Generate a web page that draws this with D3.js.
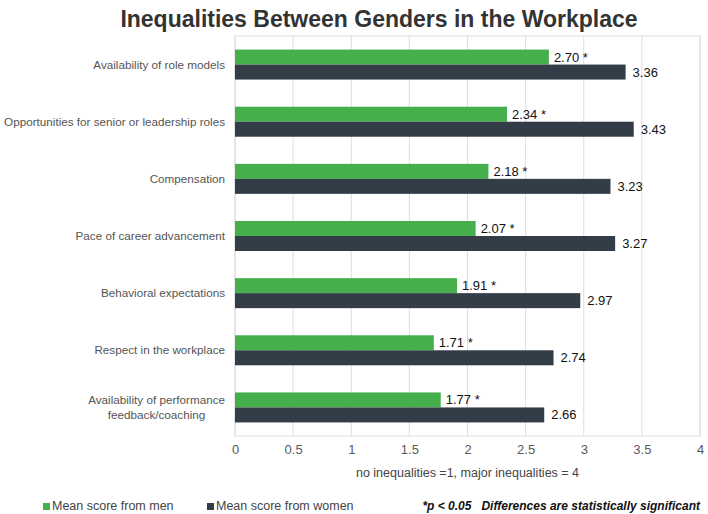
<!DOCTYPE html>
<html>
<head>
<meta charset="utf-8">
<script src="https://cdn.jsdelivr.net/npm/d3@7"></script>
<style>
  body { margin: 0; background: #fff; }
  svg text { font-family: "Liberation Sans", Arial, sans-serif; }
</style>
</head>
<body>
<div id="chart"></div>
<script>
// categories, top to bottom (multi-line labels split by "|")
const categories = [
  "Availability of role models",
  "Opportunities for senior or leadership roles",
  "Compensation",
  "Pace of career advancement",
  "Behavioral expectations",
  "Respect in the workplace",
  "Availability of performance|feedback/coaching"
];
const menScores = [2.70, 2.34, 2.18, 2.07, 1.91, 1.71, 1.77];
const womenScores = [3.36, 3.43, 3.23, 3.27, 2.97, 2.74, 2.66];
const xTicks = [0, 0.5, 1, 1.5, 2, 2.5, 3, 3.5, 4];
const seriesNames = ["Mean score from men", "Mean score from women"];

const width = 708, height = 514;
const margin = {top: 36, right: 8, bottom: 78, left: 235};
const greenColor = '#45b04b';
const darkColor = '#333d47';

const svg = d3.select('#chart').append('svg')
  .attr('width', width)
  .attr('height', height);

const x = d3.scaleLinear()
  .domain([0, 4])
  .range([margin.left, width - margin.right]);

const y = d3.scaleBand()
  .domain(categories)
  .range([margin.top, height - margin.bottom]);

const barH = 15;

// gridlines
svg.append('g')
  .selectAll('line')
  .data(xTicks)
  .join('line')
  .attr('x1', d => x(d)).attr('x2', d => x(d))
  .attr('y1', margin.top).attr('y2', height - margin.bottom)
  .attr('stroke', '#dedede')
  .attr('stroke-width', 1);

// plot border
svg.append('rect')
  .attr('x', margin.left)
  .attr('y', margin.top)
  .attr('width', x(4) - x(0))
  .attr('height', height - margin.bottom - margin.top)
  .attr('fill', 'none')
  .attr('stroke', '#dedede');

// title
svg.append('text')
  .attr('x', 379)
  .attr('y', 27)
  .attr('text-anchor', 'middle')
  .style('font-size', '23px')
  .style('font-weight', 'bold')
  .attr('fill', '#333')
  .text('Inequalities Between Genders in the Workplace');

const rows = categories.map((c, i) => ({cat: c, men: menScores[i], women: womenScores[i]}));

const g = svg.append('g');

// men bars
g.selectAll('.men')
  .data(rows)
  .join('rect')
  .attr('class', 'men')
  .attr('x', x(0))
  .attr('y', d => y(d.cat) + y.bandwidth() / 2 - barH)
  .attr('width', d => x(d.men) - x(0))
  .attr('height', barH)
  .attr('fill', greenColor);

// women bars
g.selectAll('.women')
  .data(rows)
  .join('rect')
  .attr('class', 'women')
  .attr('x', x(0))
  .attr('y', d => y(d.cat) + y.bandwidth() / 2)
  .attr('width', d => x(d.women) - x(0))
  .attr('height', barH)
  .attr('fill', darkColor);

// value labels
g.selectAll('.menLabel')
  .data(rows)
  .join('text')
  .attr('x', d => x(d.men) + 5)
  .attr('y', d => y(d.cat) + y.bandwidth() / 2 - barH / 2)
  .attr('dy', '0.35em')
  .style('font-size', '13px')
  .attr('fill', '#111')
  .text(d => d.men.toFixed(2) + ' *');

g.selectAll('.womenLabel')
  .data(rows)
  .join('text')
  .attr('x', d => x(d.women) + 7)
  .attr('y', d => y(d.cat) + y.bandwidth() / 2 + barH / 2)
  .attr('dy', '0.35em')
  .style('font-size', '13px')
  .attr('fill', '#111')
  .text(d => d.women.toFixed(2));

// category labels
const catG = svg.append('g');
categories.forEach(c => {
  const lines = c.split('|');
  const cy = y(c) + y.bandwidth() / 2;
  const lineH = 15;
  const t = catG.append('text')
    .style('font-size', '11.7px')
    .attr('fill', '#555');
  lines.forEach((ln, j) => {
    t.append('tspan')
      .attr('y', cy + (j - (lines.length - 1) / 2) * lineH)
      .attr('dy', '0.35em')
      .text(ln);
  });
  if (lines.length === 1) {
    t.attr('text-anchor', 'end').selectAll('tspan').attr('x', 225);
  } else {
    // centred block, widest line ending at the same right edge
    const widths = [];
    t.selectAll('tspan').each(function() { widths.push(this.getComputedTextLength()); });
    const cx = 225 - d3.max(widths) / 2;
    t.attr('text-anchor', 'middle').selectAll('tspan').attr('x', cx);
  }
});

// x axis tick labels
const xAxis = d3.axisBottom(x)
  .tickValues(xTicks)
  .tickSize(0)
  .tickPadding(9)
  .tickFormat(d => d3.format('')(d));

svg.append('g')
  .attr('transform', `translate(0,${height - margin.bottom})`)
  .call(xAxis)
  .call(s => s.select('.domain').remove())
  .call(s => s.selectAll('text')
    .style('font-size', '13px')
    .style('font-family', '"Liberation Sans", Arial, sans-serif')
    .attr('fill', '#595959'));

// axis title
svg.append('text')
  .attr('x', (x(0) + x(4)) / 2)
  .attr('y', 477)
  .attr('text-anchor', 'middle')
  .style('font-size', '12.5px')
  .attr('fill', '#444')
  .text('no inequalities =1, major inequalities = 4');

// legend
const legendX = [43, 207];
const legend = svg.append('g');
seriesNames.forEach((name, i) => {
  legend.append('rect')
    .attr('x', legendX[i])
    .attr('y', 503)
    .attr('width', 7)
    .attr('height', 7)
    .attr('fill', i === 0 ? greenColor : darkColor);
  legend.append('text')
    .attr('x', legendX[i] + 9)
    .attr('y', 506)
    .attr('dy', '0.35em')
    .style('font-size', '12.5px')
    .attr('fill', '#444')
    .text(name);
});

// significance note
svg.append('text')
  .attr('x', 700)
  .attr('y', 506)
  .attr('dy', '0.35em')
  .attr('text-anchor', 'end')
  .style('font-size', '12px')
  .style('font-weight', 'bold')
  .style('font-style', 'italic')
  .attr('fill', '#111')
  .attr('xml:space', 'preserve')
  .text('*p < 0.05   Differences are statistically significant');
</script>
</body>
</html>
